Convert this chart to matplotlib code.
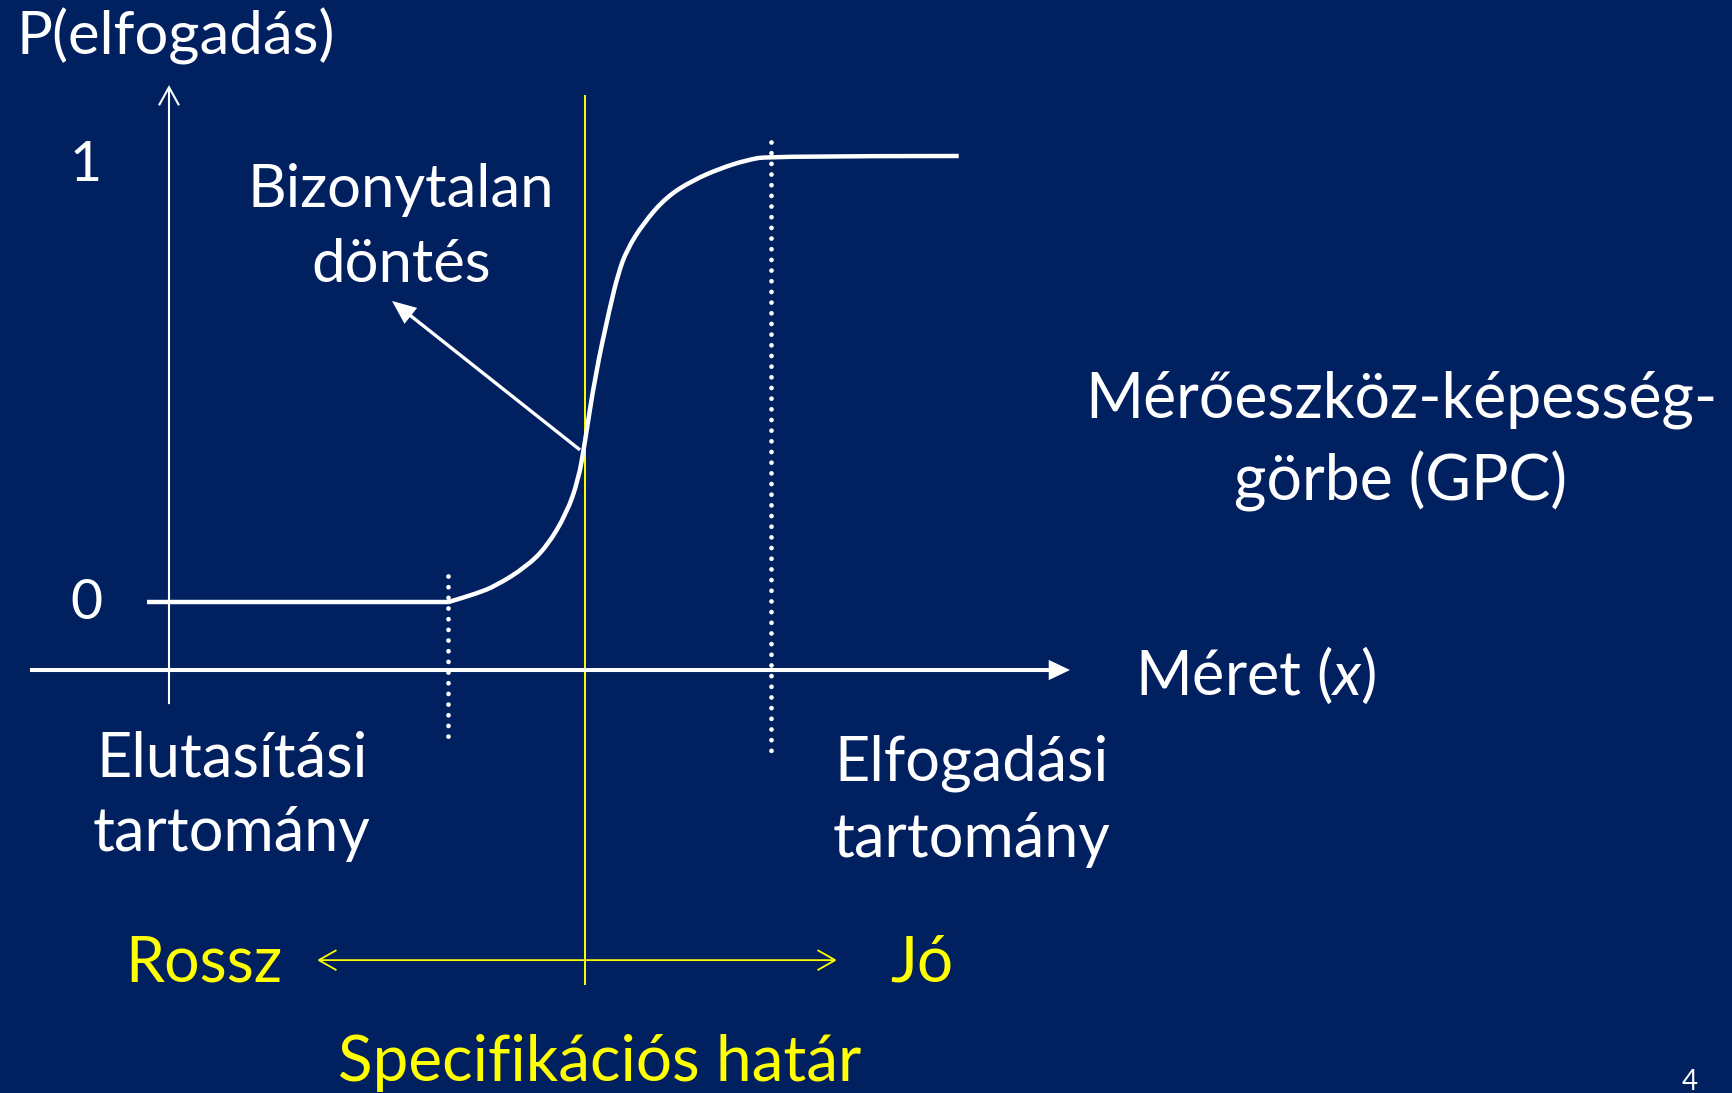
import matplotlib as mpl
import matplotlib.pyplot as plt
from matplotlib.patches import FancyArrowPatch, ArrowStyle, PathPatch
from matplotlib.path import Path

BG = "#002060"
WHITE = "#FFFFFF"
YELLOW = "#FFFF00"
FONT = ["Lato", "DejaVu Sans"]

# gauge performance curve: measured size (x) vs probability of acceptance
MERET = [-4.38, -1.364, -1.085, -0.893, -0.587, -0.383, -0.183, -0.067, -0.007,
         0.102, 0.25, 0.333, 0.417, 0.583, 0.817, 1.083, 1.35, 1.617, 1.85, 3.737]
P_ELFOGADAS = [0.0, 0.0, 0.019, 0.036, 0.079, 0.124, 0.199, 0.274, 0.349,
               0.508, 0.662, 0.737, 0.789, 0.849, 0.909, 0.946, 0.972, 0.991, 1.0, 1.0]

SPEC_LIMIT = 0.0
REJECT_EDGE = -1.37
ACCEPT_EDGE = 1.86
Y_TICKS = [0, 1]
Y_TICK_LABELS = ["0", "1"]

mpl.rcParams.update({
    "font.family": FONT,
    "mathtext.fontset": "custom",
    "mathtext.rm": "Lato",
    "mathtext.it": "Lato:italic",
})

fig = plt.figure(figsize=(17.33, 10.93), dpi=100, facecolor=BG)
ax = fig.add_axes([0, 0, 1, 1])
ax.set_facecolor(BG)
ax.set_xlim(-5.85, 11.48)
ax.set_ylim(-1.1009, 1.3498)
ax.axis("off")


def arrow(p0, p1, style, color, lw, zorder=3):
    a = FancyArrowPatch(p0, p1, arrowstyle=style, color=color, linewidth=lw,
                        mutation_scale=1, shrinkA=0, shrinkB=0, zorder=zorder,
                        joinstyle="miter", capstyle="butt")
    ax.add_patch(a)


def smooth_path(xs, ys):
    # quadratic bezier through the midpoints, control points at the data points
    pts = list(zip(xs, ys))
    verts = [pts[0], pts[1]]
    codes = [Path.MOVETO, Path.LINETO]
    for i in range(1, len(pts) - 2):
        mid = ((pts[i][0] + pts[i + 1][0]) / 2, (pts[i][1] + pts[i + 1][1]) / 2)
        verts += [pts[i], mid] if i > 1 else [mid]
        codes += [Path.CURVE3, Path.CURVE3] if i > 1 else [Path.LINETO]
    verts += [pts[-2], pts[-1]]
    codes += [Path.CURVE3, Path.CURVE3]
    return Path(verts, codes)


# axes of the diagram
arrow((-5.55, -0.1525), (4.85, -0.1525),
      ArrowStyle("-|>", head_length=10.5, head_width=5.0), WHITE, 2.9)
arrow((-4.16, -0.229), (-4.16, 1.159),
      ArrowStyle("->", head_length=13, head_width=7.2), WHITE, 1.5)

# spec limit (yellow)
ax.plot([SPEC_LIMIT, SPEC_LIMIT], [-0.856, 1.135], color=YELLOW, lw=1.4, zorder=2)
arrow((-2.68, -0.803), (2.52, -0.803),
      ArrowStyle("<->", head_length=12.7, head_width=7.2), YELLOW, 1.3)

# dotted boundaries of the uncertain zone
dots = dict(color=WHITE, lw=3.4, linestyle=(0, (0.01, 2.25)),
            dash_capstyle="round", zorder=2)
ax.plot([REJECT_EDGE, REJECT_EDGE], [0.058, -0.303], **dots)
ax.plot([ACCEPT_EDGE, ACCEPT_EDGE], [1.031, -0.341], **dots)

# the curve
ax.add_patch(PathPatch(smooth_path(MERET, P_ELFOGADAS), facecolor="none",
                       edgecolor=WHITE, lw=3.2, joinstyle="round",
                       capstyle="butt", zorder=4))

# pointer to the uncertain decision
arrow((-0.05, 0.341), (-1.93, 0.675),
      ArrowStyle("-|>", head_length=13, head_width=5.5), WHITE, 2.4)

# y tick values (the "1" sits a little below its level)
for v, lab in zip(Y_TICKS, Y_TICK_LABELS):
    ax.text(-4.99, v - 0.004 - 0.018 * v, lab, color=WHITE, fontsize=40,
            ha="center", va="center")

ax.text(-5.68, 1.2265, "P(elfogadás)", color=WHITE, fontsize=43,
        ha="left", va="baseline")
ax.text(-1.84, 0.886, "Bizonytalan", color=WHITE, fontsize=43,
        ha="center", va="baseline")
ax.text(-1.84, 0.7175, "döntés", color=WHITE, fontsize=43,
        ha="center", va="baseline")
ax.text(8.16, 0.4126, "Mérőeszköz-képesség-", color=WHITE, fontsize=45,
        ha="center", va="baseline")
ax.text(8.16, 0.2287, "görbe (GPC)", color=WHITE, fontsize=45,
        ha="center", va="baseline")
ax.text(5.50, -0.2085, "Méret ($x$)", color=WHITE, fontsize=44,
        ha="left", va="baseline")
ax.text(-3.53, -0.392, "Elutasítási", color=WHITE, fontsize=44,
        ha="center", va="baseline")
ax.text(-3.53, -0.558, "tartomány", color=WHITE, fontsize=44,
        ha="center", va="baseline")
ax.text(3.87, -0.401, "Elfogadási", color=WHITE, fontsize=44,
        ha="center", va="baseline")
ax.text(3.87, -0.571, "tartomány", color=WHITE, fontsize=44,
        ha="center", va="baseline")

ax.text(-4.60, -0.85, "Rossz", color=YELLOW, fontsize=45,
        ha="left", va="baseline")
ax.text(3.05, -0.85, "Jó", color=YELLOW, fontsize=46,
        ha="left", va="baseline")
ax.text(0.15, -1.074, "Specifikációs határ", color=YELLOW, fontsize=46,
        ha="center", va="baseline")

ax.text(11.05, -1.094, "4", color=WHITE, fontsize=20,
        ha="center", va="baseline")

fig.savefig("out.png", dpi=100, facecolor=BG)
